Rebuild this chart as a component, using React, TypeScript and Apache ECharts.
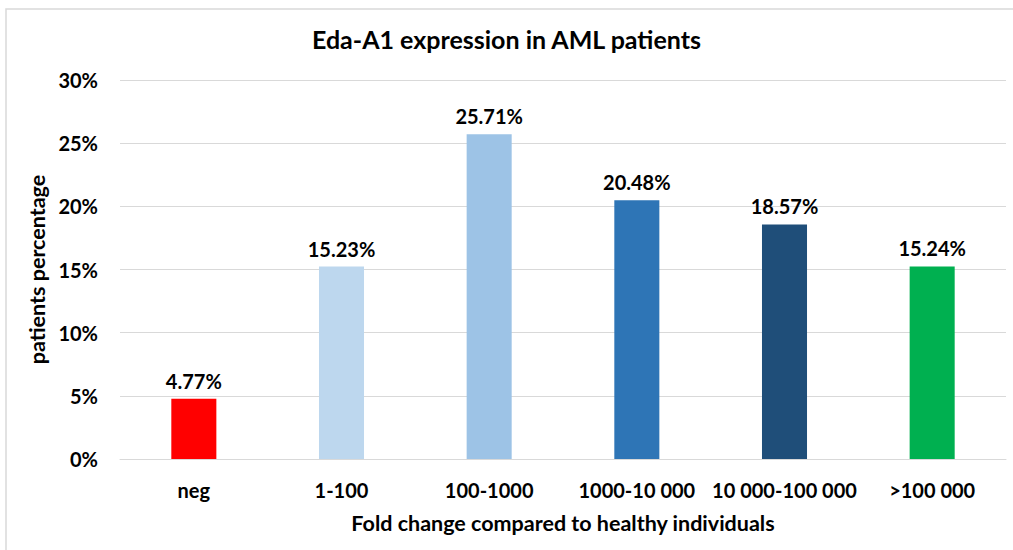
import React, { useEffect, useRef } from "react";
import * as echarts from "echarts";

const categories = ["neg", "1-100", "100-1000", "1000-10 000", "10 000-100 000", ">100 000"];
const values = [4.77, 15.23, 25.71, 20.48, 18.57, 15.24];
const colors = ["#FF0000", "#BDD7EE", "#9DC3E6", "#2E75B6", "#1F4E79", "#00B050"];

const FONT = "Lato, 'Open Sans', sans-serif";

export default function App() {
  const ref = useRef<HTMLDivElement>(null);
  useEffect(() => {
    document.body.style.margin = "0";
    const chart = echarts.init(ref.current!, undefined, { renderer: "svg" });
    chart.setOption({
      animation: false,
      backgroundColor: "#ffffff",
      textStyle: { fontFamily: FONT },
      title: {
        text: "Eda-A1 expression in AML patients",
        left: "center",
        top: 21,
        textStyle: { fontFamily: FONT, fontWeight: "bold", fontSize: 25, color: "#000" },
      },
      graphic: [
        {
          type: "rect",
          shape: { x: 6, y: 9, width: 1030, height: 560 },
          style: { fill: "none", stroke: "#D9D9D9", lineWidth: 1.5 },
          silent: true,
        },
      ],
      grid: { left: 120, right: 7, top: 80, bottom: 91, containLabel: false },
      xAxis: {
        type: "category",
        data: categories,
        axisLine: { show: true, lineStyle: { color: "#D9D9D9", width: 1 } },
        axisTick: { show: false },
        axisLabel: {
          interval: 0,
          color: "#000",
          fontFamily: FONT,
          fontWeight: "bold",
          fontSize: 20,
          margin: 21,
        },
        name: "Fold change compared to healthy individuals",
        nameLocation: "middle",
        nameGap: 53,
        nameTextStyle: { color: "#000", fontFamily: FONT, fontWeight: "bold", fontSize: 21.5 },
      },
      yAxis: {
        type: "value",
        min: 0,
        max: 30,
        interval: 5,
        axisLine: { show: false },
        axisTick: { show: false },
        splitLine: { lineStyle: { color: "#D9D9D9", width: 1 } },
        axisLabel: {
          formatter: (v: number) => `${v}%`,
          color: "#000",
          fontFamily: FONT,
          fontWeight: "bold",
          fontSize: 20,
          margin: 22,
        },
        name: "patients percentage",
        nameLocation: "middle",
        nameGap: 63,
        nameRotate: 90,
        nameTextStyle: { color: "#000", fontFamily: FONT, fontWeight: "bold", fontSize: 21.5 },
      },
      series: [
        {
          type: "bar",
          barWidth: "30.5%",
          data: values.map((v, i) => ({ value: v, itemStyle: { color: colors[i] } })),
          label: {
            show: true,
            position: "top",
            distance: 8,
            formatter: (p: any) => `${p.value.toFixed(2)}%`,
            color: "#000",
            fontFamily: FONT,
            fontWeight: "bold",
            fontSize: 20,
          },
        },
      ],
    });
    return () => chart.dispose();
  }, []);
  return <div ref={ref} style={{ position: "fixed", left: 0, top: 0, width: 1013, height: 550 }} />;
}
